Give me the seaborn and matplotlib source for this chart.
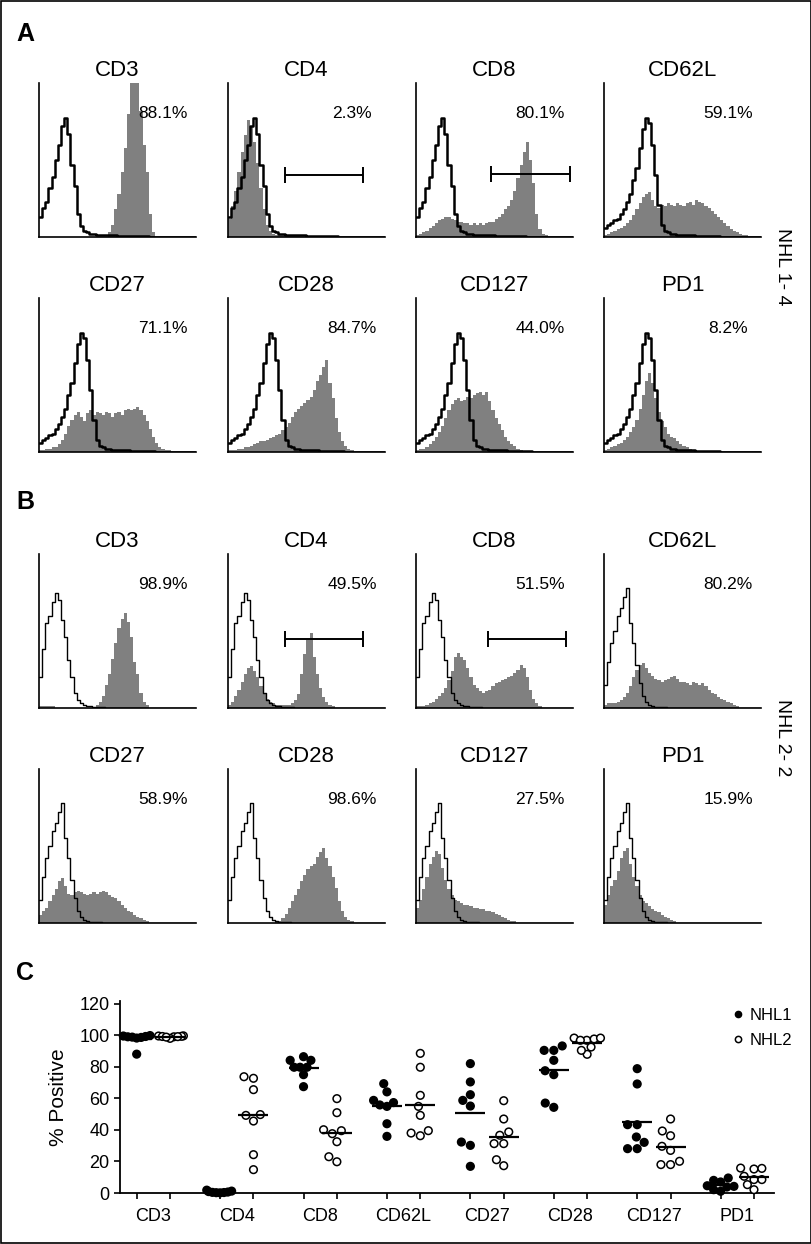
import numpy as np
import pandas as pd
import seaborn as sns
import matplotlib.pyplot as plt
from matplotlib.lines import Line2D
from matplotlib.patches import Rectangle

sns.set_style('ticks', rc={'text.color': 'black', 'axes.labelcolor': 'black',
                           'axes.edgecolor': 'black', 'xtick.color': 'black',
                           'ytick.color': 'black'})
plt.rcParams['font.family'] = ['Liberation Sans', 'DejaVu Sans']

W, H = 812, 1244

markers = ['CD3', 'CD4', 'CD8', 'CD62L', 'CD27', 'CD28', 'CD127', 'PD1']
pct_a = ['88.1%', '2.3%', '80.1%', '59.1%', '71.1%', '84.7%', '44.0%', '8.2%']
pct_b = ['98.9%', '49.5%', '51.5%', '80.2%', '58.9%', '98.6%', '27.5%', '15.9%']

# histogram heights, 50 bins over the log-fluorescence axis (fraction of panel height)
ctrl_a1 = [0.13, 0.19, 0.23, 0.32, 0.39, 0.50, 0.60, 0.72, 0.77, 0.67,
           0.47, 0.33, 0.15, 0.07, 0.04, 0.03, 0.02, 0.02, 0.015, 0.015,
           0.01, 0.01, 0.01, 0.01, 0.01, 0.008, 0.008, 0.006, 0.006, 0.005,
           0.005, 0.005, 0.004, 0.004, 0.004, 0.003, 0.003, 0.003, 0.003, 0.003,
           0.003, 0.003, 0, 0, 0, 0, 0, 0, 0, 0]
ctrl_a2 = [0.06, 0.08, 0.09, 0.11, 0.12, 0.15, 0.18, 0.23, 0.28, 0.37,
           0.45, 0.58, 0.70, 0.77, 0.74, 0.60, 0.40, 0.21, 0.08, 0.04,
           0.03, 0.02, 0.02, 0.015, 0.015, 0.01, 0.01, 0.01, 0.01, 0.008,
           0.008, 0.006, 0.006, 0.005, 0.005, 0.004, 0.004, 0.003, 0.003, 0.003,
           0.003, 0.003, 0.003, 0, 0, 0, 0, 0, 0, 0]
ctrl_b1 = [0.20, 0.38, 0.55, 0.60, 0.69, 0.75, 0.70, 0.57, 0.46, 0.31,
           0.20, 0.10, 0.05, 0.03, 0.02, 0.01, 0.01, 0.008, 0.006, 0.005,
           0.004, 0.003, 0.003, 0.002, 0.002, 0, 0, 0, 0, 0,
           0, 0, 0, 0, 0, 0, 0, 0, 0, 0,
           0, 0, 0, 0, 0, 0, 0, 0, 0, 0]
ctrl_b2 = [0.15, 0.30, 0.42, 0.50, 0.60, 0.65, 0.72, 0.78, 0.55, 0.42,
           0.28, 0.16, 0.08, 0.04, 0.02, 0.01, 0.008, 0.006, 0.005, 0.004,
           0.003, 0.003, 0.002, 0.002, 0, 0, 0, 0, 0, 0,
           0, 0, 0, 0, 0, 0, 0, 0, 0, 0,
           0, 0, 0, 0, 0, 0, 0, 0, 0, 0]

a_cd3 = [0, 0, 0, 0, 0, 0, 0, 0, 0, 0,
         0, 0, 0, 0, 0, 0, 0, 0, 0, 0,
         0, 0, 0.03, 0.08, 0.18, 0.28, 0.42, 0.58, 0.80, 1.10,
         1.40, 1.20, 0.82, 0.60, 0.42, 0.15, 0.03, 0, 0, 0,
         0, 0, 0, 0, 0, 0, 0, 0, 0, 0]
a_cd4 = [0.12, 0.20, 0.30, 0.42, 0.55, 0.66, 0.76, 0.72, 0.62, 0.48,
         0.32, 0.18, 0.08, 0.04, 0.02, 0.01, 0.01, 0.01, 0.01, 0.01,
         0.01, 0.01, 0.01, 0, 0, 0, 0, 0, 0, 0,
         0, 0, 0, 0, 0, 0, 0, 0, 0, 0,
         0, 0, 0, 0, 0, 0, 0, 0, 0, 0]
a_cd8 = [0.01, 0.02, 0.03, 0.04, 0.06, 0.07, 0.09, 0.11, 0.12, 0.13,
         0.13, 0.12, 0.11, 0.10, 0.10, 0.09, 0.09, 0.08, 0.09, 0.08,
         0.09, 0.08, 0.09, 0.10, 0.10, 0.12, 0.13, 0.15, 0.18, 0.20,
         0.24, 0.30, 0.38, 0.47, 0.55, 0.62, 0.50, 0.35, 0.15, 0.05,
         0.02, 0.01, 0, 0, 0, 0, 0, 0, 0, 0]
a_cd62l = [0.01, 0.02, 0.03, 0.04, 0.05, 0.06, 0.07, 0.09, 0.11, 0.14,
           0.18, 0.22, 0.26, 0.28, 0.29, 0.24, 0.20, 0.19, 0.21, 0.20,
           0.22, 0.21, 0.20, 0.22, 0.21, 0.20, 0.22, 0.23, 0.21, 0.24,
           0.23, 0.22, 0.20, 0.19, 0.17, 0.15, 0.13, 0.11, 0.09, 0.07,
           0.05, 0.04, 0.03, 0.02, 0.01, 0.01, 0, 0, 0, 0]
a_cd27 = [0.01, 0.01, 0.02, 0.02, 0.03, 0.03, 0.05, 0.08, 0.12, 0.17,
          0.21, 0.24, 0.26, 0.23, 0.20, 0.25, 0.27, 0.24, 0.26, 0.25,
          0.24, 0.26, 0.25, 0.23, 0.25, 0.26, 0.24, 0.27, 0.28, 0.27,
          0.28, 0.29, 0.27, 0.24, 0.20, 0.15, 0.10, 0.06, 0.03, 0.02,
          0.01, 0.01, 0, 0, 0, 0, 0, 0, 0, 0]
a_cd28 = [0.01, 0.01, 0.01, 0.02, 0.02, 0.03, 0.03, 0.04, 0.05, 0.06,
          0.07, 0.07, 0.08, 0.09, 0.10, 0.11, 0.12, 0.14, 0.16, 0.19,
          0.23, 0.26, 0.28, 0.30, 0.32, 0.34, 0.36, 0.40, 0.46, 0.50,
          0.55, 0.60, 0.45, 0.35, 0.22, 0.13, 0.07, 0.04, 0.02, 0.01,
          0, 0, 0, 0, 0, 0, 0, 0, 0, 0]
a_cd127 = [0.01, 0.02, 0.02, 0.03, 0.05, 0.07, 0.10, 0.13, 0.17, 0.22,
           0.27, 0.31, 0.34, 0.35, 0.33, 0.34, 0.36, 0.35, 0.37, 0.38,
           0.39, 0.37, 0.39, 0.33, 0.27, 0.22, 0.18, 0.14, 0.10, 0.07,
           0.05, 0.04, 0.02, 0.01, 0, 0, 0, 0, 0, 0,
           0, 0, 0, 0, 0, 0, 0, 0, 0, 0]
a_pd1 = [0.01, 0.02, 0.03, 0.04, 0.05, 0.06, 0.08, 0.10, 0.13, 0.16,
         0.21, 0.28, 0.37, 0.46, 0.51, 0.45, 0.35, 0.26, 0.20, 0.16,
         0.12, 0.10, 0.09, 0.07, 0.05, 0.04, 0.03, 0.02, 0.01, 0,
         0, 0, 0, 0, 0, 0, 0, 0, 0, 0,
         0, 0, 0, 0, 0, 0, 0, 0, 0, 0]

b_cd3 = [0.01, 0.01, 0.01, 0.01, 0.01, 0, 0, 0, 0, 0,
         0, 0, 0, 0, 0, 0, 0, 0, 0.02, 0.04,
         0.08, 0.15, 0.22, 0.32, 0.42, 0.52, 0.58, 0.62, 0.56, 0.46,
         0.30, 0.22, 0.10, 0.04, 0.02, 0, 0, 0, 0, 0,
         0, 0, 0, 0, 0, 0, 0, 0, 0, 0]
b_cd4 = [0.02, 0.04, 0.08, 0.12, 0.17, 0.22, 0.26, 0.27, 0.24, 0.20,
         0.14, 0.10, 0.06, 0.04, 0.03, 0.02, 0.02, 0.02, 0.02, 0.02,
         0.03, 0.05, 0.09, 0.22, 0.35, 0.44, 0.49, 0.33, 0.22, 0.13,
         0.07, 0.04, 0.02, 0.01, 0, 0, 0, 0, 0, 0,
         0, 0, 0, 0, 0, 0, 0, 0, 0, 0]
b_cd8 = [0.01, 0.01, 0.01, 0.02, 0.03, 0.04, 0.06, 0.08, 0.10, 0.13,
         0.18, 0.24, 0.33, 0.36, 0.33, 0.31, 0.26, 0.20, 0.15, 0.13,
         0.11, 0.10, 0.11, 0.12, 0.14, 0.16, 0.17, 0.18, 0.19, 0.20,
         0.21, 0.23, 0.25, 0.28, 0.26, 0.20, 0.12, 0.06, 0.03, 0.01,
         0, 0, 0, 0, 0, 0, 0, 0, 0, 0]
b_cd62l = [0.02, 0.03, 0.03, 0.03, 0.04, 0.05, 0.07, 0.10, 0.14, 0.20,
           0.25, 0.28, 0.29, 0.26, 0.23, 0.21, 0.19, 0.18, 0.17, 0.18,
           0.19, 0.20, 0.21, 0.19, 0.17, 0.17, 0.16, 0.15, 0.17, 0.16,
           0.15, 0.16, 0.14, 0.12, 0.10, 0.09, 0.07, 0.06, 0.05, 0.04,
           0.03, 0.02, 0.01, 0, 0, 0, 0, 0, 0, 0]
b_cd27 = [0.05, 0.08, 0.10, 0.14, 0.18, 0.22, 0.27, 0.29, 0.24, 0.19,
          0.18, 0.20, 0.21, 0.20, 0.19, 0.18, 0.19, 0.20, 0.19, 0.20,
          0.21, 0.20, 0.18, 0.17, 0.16, 0.14, 0.12, 0.10, 0.08, 0.07,
          0.05, 0.04, 0.03, 0.02, 0.01, 0, 0, 0, 0, 0,
          0, 0, 0, 0, 0, 0, 0, 0, 0, 0]
b_cd28 = [0, 0, 0, 0, 0, 0, 0, 0, 0, 0,
          0, 0, 0, 0, 0, 0.01, 0.01, 0.03, 0.06, 0.10,
          0.14, 0.18, 0.22, 0.27, 0.31, 0.35, 0.37, 0.38, 0.43, 0.46,
          0.49, 0.42, 0.37, 0.30, 0.23, 0.14, 0.08, 0.04, 0.02, 0.01,
          0, 0, 0, 0, 0, 0, 0, 0, 0, 0]
b_cd127 = [0.10, 0.15, 0.22, 0.30, 0.38, 0.43, 0.47, 0.45, 0.36, 0.28,
           0.22, 0.18, 0.15, 0.14, 0.13, 0.12, 0.12, 0.11, 0.10, 0.10,
           0.09, 0.09, 0.08, 0.08, 0.07, 0.06, 0.05, 0.04, 0.03, 0.02,
           0.01, 0.01, 0, 0, 0, 0, 0, 0, 0, 0,
           0, 0, 0, 0, 0, 0, 0, 0, 0, 0]
b_pd1 = [0.12, 0.18, 0.24, 0.28, 0.34, 0.42, 0.47, 0.49, 0.38, 0.30,
         0.24, 0.18, 0.14, 0.13, 0.11, 0.09, 0.08, 0.07, 0.05, 0.04,
         0.03, 0.02, 0.01, 0, 0, 0, 0, 0, 0, 0,
         0, 0, 0, 0, 0, 0, 0, 0, 0, 0,
         0, 0, 0, 0, 0, 0, 0, 0, 0, 0]

# panel C: % positive per patient sample
nhl1_pct = [[99.2, 98.6, 99.5, 98.2, 99.0, 99.8, 98.8, 88.0],
            [0.3, 0.6, 1.2, 0.1, 0.4, 1.8, 0.9, 0.2],
            [86.4, 84.1, 84.1, 79.7, 79.7, 79.7, 75.0, 67.4],
            [69.3, 64.1, 57.3, 58.7, 54.9, 55.8, 43.9, 35.9],
            [82.0, 70.4, 62.3, 58.7, 55.1, 32.3, 30.2, 16.9],
            [90.4, 90.4, 93.2, 84.1, 77.5, 75.0, 54.3, 57.0],
            [78.8, 69.1, 43.3, 43.3, 35.5, 32.1, 28.1, 28.1],
            [8.0, 7.0, 9.5, 4.6, 3.8, 4.2, 1.1, 2.1]]
nhl2_pct = [[99.0, 99.5, 98.0, 99.2, 99.6, 98.8, 99.3, 99.1],
            [72.7, 73.7, 65.5, 49.7, 49.2, 45.6, 24.3, 14.8],
            [59.8, 50.9, 39.5, 40.1, 37.6, 32.5, 23.0, 19.8],
            [88.5, 79.7, 61.9, 54.9, 49.2, 39.5, 36.3, 38.0],
            [58.5, 46.9, 36.6, 38.7, 31.3, 31.3, 21.1, 17.3],
            [98.2, 96.8, 96.8, 97.6, 98.2, 92.5, 87.9, 90.4],
            [46.9, 39.3, 36.3, 29.6, 27.0, 20.1, 18.0, 18.0],
            [15.8, 15.2, 15.6, 10.6, 8.5, 8.5, 5.3, 2.1]]
groups = ['NHL1', 'NHL2']

# gate bars: (x start, x end, height) in panel fractions
gates = {('A', 'CD4'): (0.363, 0.86, 0.40), ('A', 'CD8'): (0.48, 0.98, 0.41),
         ('B', 'CD4'): (0.363, 0.86, 0.45), ('B', 'CD8'): (0.46, 0.955, 0.45)}

fig = plt.figure(figsize=(W / 100, H / 100), dpi=100)


def add_ax(left, top, width, height):
    return fig.add_axes([left / W, 1 - (top + height) / H, width / W, height / H])


n_bins = len(ctrl_a1)
centers = (np.arange(n_bins) + 0.5) / n_bins
col_left = [39, 228, 416, 604]

panels = [
    ('A', [a_cd3, a_cd4, a_cd8, a_cd62l, a_cd27, a_cd28, a_cd127, a_pd1],
     [ctrl_a1] * 3 + [ctrl_a2] * 5, pct_a, [83, 298], 1.8),
    ('B', [b_cd3, b_cd4, b_cd8, b_cd62l, b_cd27, b_cd28, b_cd127, b_pd1],
     [ctrl_b1] * 3 + [ctrl_b2] * 5, pct_b, [554, 769], 1.0),
]

for name, fills, ctrls, pcts, tops, lw in panels:
    for k, m in enumerate(markers):
        ax = add_ax(col_left[k % 4], tops[k // 4], 157, 154)
        sns.histplot(x=centers, weights=fills[k], bins=n_bins, binrange=(0, 1),
                     element='step', fill=True, color='#808080', alpha=1,
                     linewidth=0, ax=ax)
        sns.histplot(x=centers, weights=ctrls[k], bins=n_bins, binrange=(0, 1),
                     element='step', fill=False, color='black', linewidth=lw, ax=ax)
        ax.set(xlim=(0, 1), ylim=(0, 1), xticks=[], yticks=[], xlabel='', ylabel='')
        sns.despine(ax=ax)
        for s in ['left', 'bottom']:
            ax.spines[s].set_linewidth(1.2)
        ax.set_title(m, fontsize=16, pad=5)
        ax.text(0.79, 0.8, pcts[k], transform=ax.transAxes, ha='center',
                va='center', fontsize=12.5)
        if (name, m) in gates:
            x0, x1, gy = gates[(name, m)]
            ax.errorbar((x0 + x1) / 2, gy, xerr=(x1 - x0) / 2, fmt='none',
                        ecolor='black', elinewidth=1.4, capsize=6, capthick=1.4)

# panel C
rows = []
for m, v1, v2 in zip(markers, nhl1_pct, nhl2_pct):
    rows += [(m, 'NHL1', v) for v in v1] + [(m, 'NHL2', v) for v in v2]
dfc = pd.DataFrame(rows, columns=['marker', 'group', 'pct'])

axc = add_ax(120, 1001.3, 654, 191.7)
sns.swarmplot(data=dfc, x='marker', y='pct', hue='group', order=markers,
              hue_order=groups, dodge=True,
              palette={'NHL1': 'black', 'NHL2': 'white'}, edgecolor='black',
              linewidth=1.1, size=5.5, legend=False, ax=axc)

axc.set_xlim(-0.4, 7.44)
axc.set_ylim(0, 121.5)

# seaborn lays the swarm out at draw time; render once, then keep each
# swarm inside its column so crowded points overlap like in the original
fig.canvas.draw()
dodge_pos = np.array([i + d for i in range(len(markers)) for d in (-0.2, 0.2)])
for coll in axc.collections:
    coll.set_clip_on(False)
    if 'draw' in coll.__dict__:
        del coll.draw
    xy = np.array(coll.get_offsets())
    if len(xy) == 0:
        continue
    c = dodge_pos[np.argmin(np.abs(dodge_pos - np.median(xy[:, 0])))]
    spread = np.abs(xy[:, 0] - c).max()
    if spread > 0.16:
        xy[:, 0] = c + (xy[:, 0] - c) * 0.16 / spread
    coll.set_offsets(xy)

means = dfc.groupby(['marker', 'group'])['pct'].mean()
for i, m in enumerate(markers):
    for off, g in zip((-0.2, 0.2), groups):
        axc.hlines(means[(m, g)], i + off - 0.18, i + off + 0.18,
                   color='black', lw=1.6, zorder=5)

axc.set_xticks(dodge_pos, labels=[])
axc.set_xticks(range(len(markers)), labels=markers, minor=True)
axc.tick_params(axis='x', which='major', length=4.5, width=1.2)
axc.tick_params(axis='x', which='minor', length=0, pad=11, labelsize=13)
axc.tick_params(axis='y', length=4.5, width=1.2, labelsize=13, pad=3)
axc.set_xlim(-0.4, 7.44)
axc.set_ylim(0, 121.5)
axc.set_yticks(range(0, 121, 20))
axc.set_xlabel('')
axc.set_ylabel('% Positive', fontsize=15, labelpad=8)
sns.despine(ax=axc)
for s in ['left', 'bottom']:
    axc.spines[s].set_linewidth(1.3)

handles = [Line2D([], [], ls='', marker='o', ms=4.5, mfc='black', mec='black'),
           Line2D([], [], ls='', marker='o', ms=4.5, mfc='white', mec='black', mew=1.1)]
axc.legend(handles, groups, loc='upper left', bbox_to_anchor=(733 / W, 1 - 1008 / H),
           bbox_transform=fig.transFigure, frameon=False, fontsize=12,
           handlelength=0.6, handletextpad=0.4, labelspacing=0.6,
           borderpad=0, borderaxespad=0)

# panel letters and side labels
for letter, y in [('A', 34), ('B', 502), ('C', 973)]:
    fig.text(16 / W, 1 - y / H, letter, fontsize=18, fontweight='bold',
             ha='left', va='center')
fig.text(783 / W, 1 - 267 / H, 'NHL 1- 4', rotation=270, ha='center',
         va='center', fontsize=14)
fig.text(783 / W, 1 - 738 / H, 'NHL 2- 2', rotation=270, ha='center',
         va='center', fontsize=14)

fig.add_artist(Rectangle((1 / W, 1 / H), (W - 2) / W, (H - 2) / H,
                         transform=fig.transFigure, fill=False,
                         edgecolor='black', lw=1.2))

fig.savefig('out.png', dpi=100)
